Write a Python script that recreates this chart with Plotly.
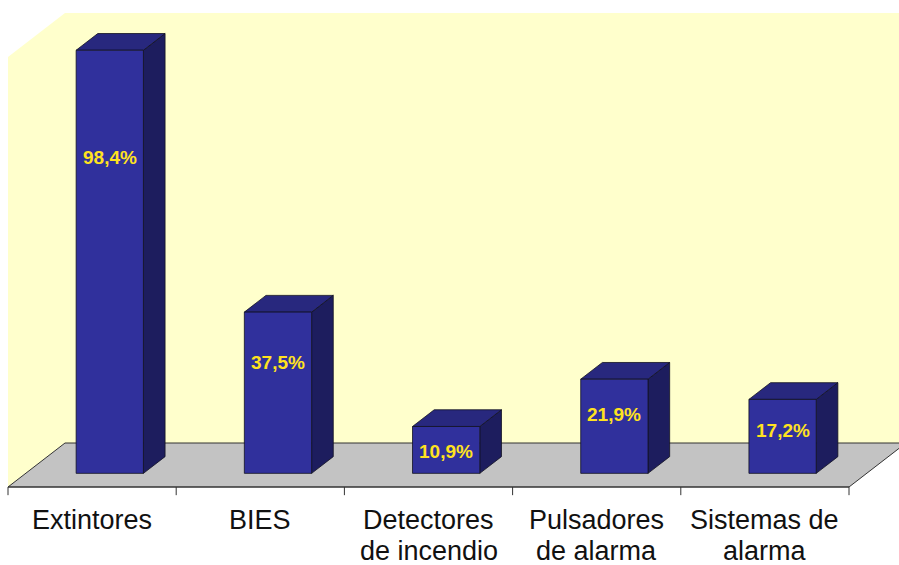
import plotly.graph_objects as go

# ---- data ----
category_labels = ["Extintores", "BIES", "Detectores<br>de incendio",
                   "Pulsadores<br>de alarma", "Sistemas de<br>alarma"]
values = [98.4, 37.5, 10.9, 21.9, 17.2]
value_labels = [f"{v:.1f}".replace(".", ",") + "%" for v in values]
axis_max = 100

# ---- 3D-ish projection settings ----
PX_PER_CAT = 168.2
PX_PER_VAL = 4.30
DEPTH_PX_X = 57.0
DEPTH_PX_Y = 44.0
DX = DEPTH_PX_X / PX_PER_CAT
DV = DEPTH_PX_Y / PX_PER_VAL
X0_PX, Y0_PX = 8.0, 487.0
W, H = 899, 565

BAR_A, BAR_B = 0.30, 0.70      # bar extent within category
D_F, D_B = 0.31, 0.69          # bar depth extent

WALL = "#FFFFCC"
FLOOR = "#C3C3C3"
FRONT = "#30309C"
SIDE = "#1D1D5E"
TOP = "#28287E"
EDGE = "#111122"


def P(x, v, d):
    return x + d * DX, v + d * DV


def poly(pts, fill, line_color=None, width=0.8):
    xs = [p[0] for p in pts] + [pts[0][0]]
    ys = [p[1] for p in pts] + [pts[0][1]]
    return go.Scatter(x=xs, y=ys, mode="lines", fill="toself", fillcolor=fill,
                      line=dict(color=line_color or fill, width=width if line_color else 0),
                      hoverinfo="skip", showlegend=False)


def seg(pts, color, width=1.2):
    return go.Scatter(x=[p[0] for p in pts], y=[p[1] for p in pts], mode="lines",
                      line=dict(color=color, width=width), hoverinfo="skip",
                      showlegend=False)


n = len(values)
fig = go.Figure()

# walls
fig.add_trace(poly([P(0, 0, 0), P(0, axis_max, 0), P(0, axis_max, 1), P(0, 0, 1)], WALL))
fig.add_trace(poly([P(0, 0, 1), P(0, axis_max, 1), P(n + 1, axis_max, 1), P(n + 1, 0, 1)], WALL))
# floor
fig.add_trace(poly([P(0, 0, 0), P(0, 0, 1), P(n, 0, 1), P(n, 0, 0)], FLOOR))
# floor edges
fig.add_trace(seg([P(0, 0, 0), P(n, 0, 0)], "#333333", 1.3))
fig.add_trace(seg([P(0, 0, 0), P(0, 0, 1), P(n + 1, 0, 1)], "#333333", 1.0))
fig.add_trace(seg([P(n, 0, 0), P(n, 0, 1)], "#333333", 1.0))
# ticks
for i in range(n + 1):
    fig.add_trace(seg([P(i, 0, 0), P(i, -1.9, 0)], "#333333", 1.0))

# bars
for i, v in enumerate(values):
    a, b = i + BAR_A, i + BAR_B
    fig.add_trace(poly([P(b, 0, D_F), P(b, 0, D_B), P(b, v, D_B), P(b, v, D_F)], SIDE, EDGE))
    fig.add_trace(poly([P(a, v, D_F), P(b, v, D_F), P(b, v, D_B), P(a, v, D_B)], TOP, EDGE))
    fig.add_trace(poly([P(a, 0, D_F), P(b, 0, D_F), P(b, v, D_F), P(a, v, D_F)], FRONT, EDGE))

annotations = []
for i, (v, lab) in enumerate(zip(values, value_labels)):
    lx, ly = P(i + 0.5, v * 0.78 - 3.4, D_F)
    annotations.append(dict(x=lx, y=ly, text=f"<b>{lab}</b>", showarrow=False,
                            xanchor="center", yanchor="middle",
                            font=dict(family="Arial, Liberation Sans", size=19, color="#FFE21F")))

line_v = [-7.7, -14.9]
for i, lab in enumerate(category_labels):
    for k, part in enumerate(lab.split("<br>")):
        annotations.append(dict(x=i + 0.5, y=line_v[k], text=part, showarrow=False,
                                xanchor="center", yanchor="middle",
                                font=dict(family="Arial, Liberation Sans", size=27, color="#111111")))

x_lo = -X0_PX / PX_PER_CAT
x_hi = (W - X0_PX) / PX_PER_CAT
y_hi = Y0_PX / PX_PER_VAL
y_lo = (Y0_PX - H) / PX_PER_VAL

fig.update_layout(
    width=W, height=H, autosize=False,
    margin=dict(l=0, r=0, t=0, b=0),
    paper_bgcolor="white", plot_bgcolor="white",
    xaxis=dict(range=[x_lo, x_hi], visible=False, fixedrange=True),
    yaxis=dict(range=[y_lo, y_hi], visible=False, fixedrange=True),
    annotations=annotations,
    showlegend=False,
)

fig.write_html("out.html", config={"displayModeBar": False},
               post_script="document.body.style.margin='0';document.body.style.overflow='hidden';")
